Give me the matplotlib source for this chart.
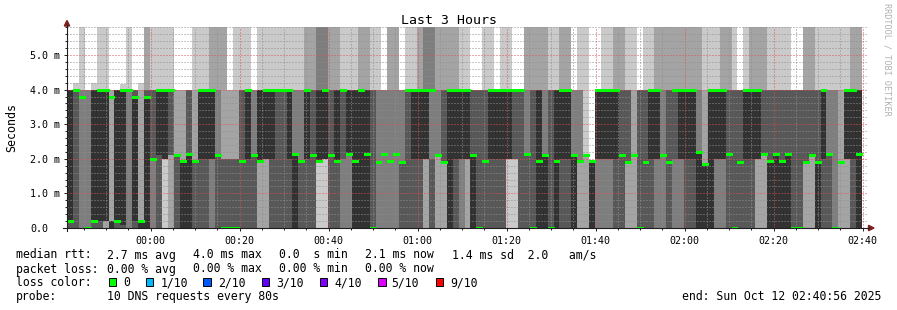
# Smokeping style DNS latency graph, last 3 hours (80 s steps, 10 pings each)
import numpy as np
import matplotlib
matplotlib.use("Agg")
import matplotlib.pyplot as plt
from matplotlib.patches import Rectangle, Polygon
from matplotlib.lines import Line2D

plt.rcParams["font.family"] = ["DejaVu Sans Mono"]

W, H = 897, 310

# time axis in minutes relative to 00:00
start_min = -18.8
step_min = 80 / 60.0
span_min = 180.0

top = 5.82  # highest ping of the window (ms)

# sorted pings (ms) per 80 s step
pings = [
    [0, 0, 0, 0, 0.2, 4, 4, 4, 4, 4],
    [0, 0, 0, 0, 4, 4, 4, 4, 4, 4.2],
    [0, 0, 0, 4, 4, 4, 4, 4, 4, top],
    [0, 0, 0, 0, 0, 0, 0, 4, 4, 4],
    [0, 0, 0, 0, 0.2, 4, 4, 4, 4, 4.2],
    [0, 0, 0, 0, 0.2, 4, 4, 4, 4, top],
    [0, 0, 0.2, 0.2, 0.2, 4, 4, 4, 4, top],
    [0, 0, 0, 0, 0, 0.2, 0.2, 0.2, 4, 4],
    [0, 0, 0, 0, 0.2, 4, 4, 4, 4, 4],
    [0, 0, 0, 0, 0.1, 4, 4, 4, 4, 4.15],
    # 10
    [0, 0, 0, 4, 4, 4, 4, 4, 4, top],
    [0, 0, 0, 0, 0.2, 3.8, 4, 4, 4, 4],
    [0, 0, 0, 0, 0, 0.2, 0.2, 0.2, 4, 4.2],
    [0, 0, 0, 0, 0, 3.8, 4, 4, top, top],
    [0, 0, 0, 2, 2, 2, 4, 4, 4, top],
    [0, 0, 0, 0, 2.1, 4, 4, 4, 4, top],
    [0, 2, 2, 2, 2, 4, 4, 4, 4, top],
    [0, 0, 2.1, 2.1, 4, 4, 4, 4, 4, top],
    [0, 0, 0, 0, 0, 0, 2.1, 2.1, 4, 4],
    [0, 0, 0, 0, 0, 1.95, 1.95, 1.95, 4, 4],
    # 20
    [0, 0, 0, 0, 0, 2.15, 4, 4, 4, 4],
    [0, 0, 0, 0, 0, 0, 1.95, 1.95, 4, top],
    [0, 0, 0, 0, 2, 4, 4, 4, 4, top],
    [0, 0, 0, 0, 2, 4, 4, 4, 4, top],
    [0, 0, 0, 2, 2, 4, 4, 4, top, top],
    [0, 0, 0, 0, 0, 0, 2.1, 4, top, top],
    [0, 0, 0, 0, 0, 0, 2, 2, top, top],
    [0, 0, 0, 0, 0, 0, 2, 2, 4, 4],
    [0, 0, 0, 0, 0, 0, 2, 2, 4, top],
    [0, 0, 0, 0, 1.95, 1.95, 4, 4, 4, top],
    # 30
    [0, 0, 0, 0, 2, 4, 4, 4, 4, top],
    [0, 0, 0, 0, 0, 0, 2.1, 4, 4, 4],
    [0, 0, 1.95, 1.95, 1.95, 4, 4, 4, 4, top],
    [0, 0, 2, 2, 2, 4, 4, 4, 4, top],
    [0, 0, 0, 0, 2, 4, 4, 4, 4, top],
    [0, 0, 0, 0, 2, 2, 4, 4, 4, top],
    [0, 0, 0, 0, 2, 2, 4, 4, 4, top],
    [0, 0, 0, 0, 2, 4, 4, 4, 4, top],
    [0, 0, 0, 0, 0, 2.15, 2.15, 4, 4, top],
    [0, 0, 0, 0, 0, 0, 1.95, 4, 4, top],
    # 40
    [0, 0, 0, 0, 2, 4, 4, 4, top, top],
    [0, 0, 0, 0, 2.1, 2.1, 4, 4, top, top],
    [0, 1.95, 1.95, 1.95, 1.95, 4, 4, top, top, top],
    [0, 2, 2, 2, 2, 4, 4, top, top, top],
    [0, 0, 0, 0, 2.1, 2.1, 4, 4, top, top],
    [0, 0, 0, 0, 1.95, 4, 4, 4, top, top],
    [0, 0, 0, 2, 2, 2, 4, 4, 4, top],
    [0, 0, 0, 2.15, 2.15, 4, 4, 4, 4, top],
    [0, 0, 0, 0, 0, 4, 4, 4, 4, top],
    [0, 0, 0, 0, 0, 4, 4, 4, top, top],
    # 50
    [0, 0, 0, 0, 0, 4, 4, 4, top, top],
    [0, 0, 0, 0, 0, 0, 4, 4, 4, top],
    [0, 0, 0, 1.9, 1.9, 1.9, 1.9, 4, 4, top],
    [0, 0, 0, 2.15, 2.15, 2.15, 2.15, 4, 4, 4],
    [0, 0, 0, 1.95, 1.95, 1.95, 1.95, 4, top, top],
    [0, 0, 0, 2.15, 2.15, 2.15, 2.15, 4, top, top],
    [0, 0, 0, 0, 1.9, 1.9, 1.9, 4, 4, 4],
    [0, 0, 0, 0, 2, 2, 4, 4, 4, top],
    [0, 0, 0, 0, 2, 4, 4, 4, 4, top],
    [0, 0, 0, 0, 2, 4, 4, 4, top, top],
    # 60
    [0, 0, 2, 2, 2, 4, 4, top, top, top],
    [0, 0, 0, 0, 0, 0, 2, top, top, top],
    [0, 0, 2.1, 2.1, 2.1, 2.1, 2.1, 4, top, top],
    [0, 0, 1.9, 1.9, 4, 4, 4, 4, top, top],
    [0, 0, 0, 0, 0, 4, 4, 4, top, top],
    [0, 0, 0, 0, 2, 4, 4, 4, top, top],
    [0, 0, 0, 2, 2, 4, 4, 4, 4, top],
    [0, 0, 2, 2, 2, 4, 4, 4, 4, top],
    [0, 0, 0, 0, 0, 2.1, 4, 4, 4, 4],
    [0, 0, 0, 0, 0, 0, 4, 4, 4, 4],
    # 70
    [0, 0, 0, 0, 1.95, 1.95, 4, 4, 4, top],
    [0, 0, 0, 0, 2, 4, 4, 4, 4, top],
    [0, 0, 0, 0, 2, 4, 4, 4, 4, 4],
    [0, 0, 0, 0, 2, 4, 4, 4, 4, top],
    [0, 2, 2, 2, 2, 4, 4, 4, 4, top],
    [0, 2, 2, 2, 2, 2, 4, 4, 4, 4],
    [0, 0, 0, 0, 2, 2, 4, 4, 4, 4],
    [0, 0, 0, 0, 0, 0, 2.15, 4, top, top],
    [0, 0, 0, 0, 0, 0, 4, 4, top, top],
    [0, 0, 0, 0, 0, 4, 4, 4, top, top],
    # 80
    [0, 0, 0, 0, 0, 2.1, 2.1, 4, top, top],
    [0, 0, 0, 0, 0, 0, 4, 4, 4, top],
    [0, 0, 0, 0, 0, 4, 4, 4, 4, top],
    [0, 0, 0, 0, 2, 4, 4, 4, top, top],
    [0, 0, 0, 0, 2, 4, 4, 4, top, top],
    [0, 0, 0, 0, 0, 2.1, 2.1, 4, 4, 4],
    [0, 0, 1.95, 1.95, 1.95, 1.95, 1.95, 4, 4, top],
    [0, 0, 2.1, 2.1, 2.1, 2.1, 2.1, 2.1, 2.1, top],
    [0, 0, 0, 0, 0, 1.95, 1.95, 1.95, 1.95, 1.95],
    [0, 0, 0, 2, 2, 4, 4, 4, 4, 4],
    # 90
    [0, 0, 0, 2, 2, 4, 4, 4, 4, top],
    [0, 0, 0, 2, 2, 4, 4, 4, 4, top],
    [0, 0, 0, 0, 2, 4, 4, 4, top, top],
    [0, 0, 0, 0, 2.1, 2.1, 4, 4, top, top],
    [0, 0, 1.9, 1.9, 1.9, 1.9, 4, 4, 4, top],
    [0, 0, 2.1, 2.1, 2.1, 2.1, 2.1, 2.1, 4, top],
    [0, 0, 0, 0, 0, 0, 4, 4, 4, 4],
    [0, 0, 0, 0, 1.9, 1.9, 4, 4, 4, top],
    [0, 0, 0, 0, 2, 4, 4, 4, 4, top],
    [0, 0, 0, 2, 2, 4, 4, 4, top, top],
    # 100
    [0, 0, 0, 2.1, 2.1, 2.1, 2.1, 4, top, top],
    [0, 0, 0, 0, 1.9, 1.9, 4, 4, top, top],
    [0, 0, 0, 2, 2, 2, 4, 4, top, top],
    [0, 0, 0, 2, 2, 4, 4, 4, top, top],
    [0, 0, 0, 0, 2, 4, 4, 4, top, top],
    [0, 0, 0, 0, 2, 4, 4, 4, top, top],
    [0, 0, 0, 0, 0, 2.2, 2.2, 4, top, top],
    [0, 0, 0, 0, 0, 1.85, 1.85, 1.85, 4, top],
    [0, 0, 0, 0, 0, 4, 4, 4, 4, top],
    [0, 0, 0, 2, 2, 4, 4, 4, 4, top],
    # 110
    [0, 0, 0, 2, 2, 4, 4, 4, top, top],
    [0, 0, 0, 0, 2.15, 2.15, 4, 4, top, top],
    [0, 0, 0, 0, 0, 0, 4, 4, 4, top],
    [0, 0, 0, 0, 1.9, 1.9, 4, 4, 4, 4],
    [0, 0, 0, 0, 2, 4, 4, 4, 4, top],
    [0, 0, 0, 0, 2, 4, 4, 4, top, top],
    [0, 0, 2, 2, 2, 4, 4, 4, top, top],
    [0, 0, 2.15, 2.15, 4, 4, 4, 4, top, top],
    [0, 0, 0, 0, 0, 1.95, 4, 4, 4, top],
    [0, 0, 0, 0, 0, 2.15, 4, 4, 4, top],
    # 120
    [0, 0, 0, 0, 0, 1.95, 4, 4, 4, top],
    [0, 0, 0, 0, 0, 2.15, 4, 4, 4, top],
    [0, 0, 0, 0, 0, 0, 4, 4, 4, 4],
    [0, 0, 0, 0, 0, 0, 4, 4, 4, 4],
    [0, 0, 1.9, 1.9, 4, 4, 4, 4, top, top],
    [0, 0, 2.1, 2.1, 4, 4, 4, 4, top, top],
    [0, 0, 0, 0, 0, 1.9, 4, 4, 4, top],
    [0, 0, 0, 0, 2, 4, 4, 4, 4, top],
    [0, 0, 0, 0, 0, 0, 2.15, 4, 4, top],
    [0, 0, 0, 0, 0, 0, 0, 4, 4, top],
    # 130
    [0, 0, 1.9, 1.9, 1.9, 1.9, 1.9, 1.9, 4, top],
    [0, 0, 2, 2, 2, 4, 4, 4, 4, top],
    [0, 0, 0, 0, 2, 4, 4, 4, top, top],
    [0, 0, 0, 0, 0, 4, 4, 4, top, top],
]

# median rtt (ms) per step
median = [
    0.2, 4.0, 3.8, 0.0, 0.2, 4.0, 4.0, 3.8, 0.2, 4.0,
    4.0, 3.8, 0.2, 3.8, 2.0, 4.0, 4.0, 4.0, 2.1, 1.95,
    2.15, 1.95, 4.0, 4.0, 4.0, 2.1, 0.0, 0.0, 0.0, 1.95,
    4.0, 2.1, 1.95, 4.0, 4.0, 4.0, 4.0, 4.0, 2.15, 1.95,
    4.0, 2.1, 1.95, 4.0, 2.1, 1.95, 4.0, 2.15, 1.95, 4.0,
    2.15, 0.0, 1.9, 2.15, 1.95, 2.15, 1.9, 4.0, 4.0, 4.0,
    4.0, 4.0, 2.1, 1.9, 4.0, 4.0, 4.0, 4.0, 2.1, 0.0,
    1.95, 4.0, 4.0, 4.0, 4.0, 4.0, 4.0, 2.15, 0.0, 1.95,
    2.1, 0.0, 1.95, 4.0, 4.0, 2.1, 1.95, 2.1, 1.95, 4.0,
    4.0, 4.0, 4.0, 2.1, 1.9, 2.1, 0.0, 1.9, 4.0, 4.0,
    2.1, 1.9, 4.0, 4.0, 4.0, 4.0, 2.2, 1.85, 4.0, 4.0,
    4.0, 2.15, 0.0, 1.9, 4.0, 4.0, 4.0, 2.15, 1.95, 2.15,
    1.95, 2.15, 0.0, 0.0, 1.9, 2.1, 1.9, 4.0, 2.15, 0.0,
    1.9, 4.0, 4.0, 2.15,
]

xtick_pos = [0, 20, 40, 60, 80, 100, 120, 140, 160]
xtick_labels = ["00:00", "00:20", "00:40", "01:00", "01:20",
                "01:40", "02:00", "02:20", "02:40"]
ytick_pos = [0, 1, 2, 3, 4, 5]
ytick_labels = ["0.0", "1.0 m", "2.0 m", "3.0 m", "4.0 m", "5.0 m"]

rtt_stats = ["2.7 ms avg", "4.0 ms max", "0.0  s min", "2.1 ms now",
             "1.4 ms sd  2.0   am/s"]
loss_stats = ["0.00 % avg", "0.00 % max", "0.00 % min", "0.00 % now"]
loss_labels = ["0", "1/10", "2/10", "3/10", "4/10", "5/10", "9/10"]
loss_colors = ["#00ff00", "#00b8ff", "#0059ff", "#5e00ff",
               "#7e00ff", "#dd00ff", "#ff0000"]

smoke_colors = ["#cacaca", "#a4a4a4", "#7e7e7e", "#585858", "#323232"]
axis_col = (0.12, 0.12, 0.12)
arrow_col = (0.50, 0.12, 0.12)


def fx(x):
    return x / W


def fy(y):
    return 1 - y / H


fig = plt.figure(figsize=(W / 100, H / 100), dpi=100)
fig.patch.set_facecolor("white")

px_per_ms = 34.6
plot_l, plot_r, plot_b = 67, 868, 228
plot_t = plot_b - top * px_per_ms
ax = fig.add_axes([fx(plot_l), fy(plot_b), (plot_r - plot_l) / W, (plot_b - plot_t) / H])
ax.set_xlim(start_min, start_min + span_min)
ax.set_ylim(0, top)
for s in ax.spines.values():
    s.set_visible(False)

# smoke: band i spans ping i .. ping 11-i, darker towards the median
data = np.array(pings, dtype=float)
n = len(data)
edges = start_min + step_min * np.arange(n + 1)
for i, col in enumerate(smoke_colors):
    lo = np.append(data[:, i], data[-1, i])
    hi = np.append(data[:, 9 - i], data[-1, 9 - i])
    ax.fill_between(edges, lo, hi, step="post", color=col, lw=0,
                    antialiased=False, zorder=1)

ax.hlines(median, edges[:-1], edges[1:], colors="#00ff00", lw=1.9,
          zorder=4, antialiased=False)

# grid
ax.set_xticks(xtick_pos)
ax.set_xticks(np.arange(-15, 161, 5), minor=True)
ax.set_yticks(ytick_pos)
ax.set_yticks(np.arange(0, top, 0.2), minor=True)
ax.set_axisbelow(False)
ax.grid(which="minor", color=(0.56, 0.56, 0.56, 0.75), linestyle=(0, (1, 2)), lw=0.72)
ax.grid(which="major", color=(0.87, 0.31, 0.31, 0.6), linestyle=(0, (1, 2)), lw=0.72)

ax.set_xticklabels(xtick_labels, fontsize=7.2)
ax.set_yticklabels(ytick_labels, fontsize=7.2)
for lab in ax.get_yticklabels():
    lab.set_horizontalalignment("left")
ax.tick_params(axis="x", which="major", length=2.2, width=0.7, color=axis_col, pad=3.2)
ax.tick_params(axis="x", which="minor", length=1.5, width=0.7, color=axis_col)
ax.tick_params(axis="y", which="major", length=2.2, width=0.7, color=axis_col, pad=24.4)
ax.tick_params(axis="y", which="minor", length=1.5, width=0.7, color=axis_col)

# axis lines with arrows
fig.add_artist(Line2D([fx(63), fx(869)], [fy(228), fy(228)], color=axis_col, lw=0.8))
fig.add_artist(Line2D([fx(67), fx(67)], [fy(231), fy(25)], color=axis_col, lw=0.8))
fig.add_artist(Polygon([(fx(868.5), fy(225.3)), (fx(874), fy(228)), (fx(868.5), fy(230.7))],
                       closed=True, color=arrow_col, transform=fig.transFigure))
fig.add_artist(Polygon([(fx(64.3), fy(26)), (fx(67), fy(20.5)), (fx(69.7), fy(26))],
                       closed=True, color=arrow_col, transform=fig.transFigure))

# titles
fig.text(fx(448.5), fy(23.5), "Last 3 Hours", ha="center", va="baseline", fontsize=9.5)
fig.text(fx(11.5), fy(127), "Seconds", rotation=90, ha="center", va="center", fontsize=8.4)
fig.text(fx(887), fy(3), "RRDTOOL / TOBI OETIKER", rotation=270, ha="center", va="top",
         fontsize=6.1, color="#b0b0b0")

# legend block
fs = 8.3
base = [258.5, 272.5, 286.3, 300.2]
fig.text(fx(16), fy(base[0]), "median rtt:", fontsize=fs, va="baseline")
for x, s in zip([107, 193, 279, 365, 451.5], rtt_stats):
    fig.text(fx(x), fy(base[0]), s, fontsize=fs, va="baseline")

fig.text(fx(16), fy(base[1]), "packet loss:", fontsize=fs, va="baseline")
for x, s in zip([107, 193, 279, 365], loss_stats):
    fig.text(fx(x), fy(base[1]), s, fontsize=fs, va="baseline")

fig.text(fx(16), fy(base[2]), "loss color:", fontsize=fs, va="baseline")
box_x = [108.7, 145.7, 203.3, 261.7, 320, 378.3, 436]
lab_x = [123.3, 160.7, 218.3, 276, 334, 391.7, 450]
for bx, lx, lab, col in zip(box_x, lab_x, loss_labels, loss_colors):
    fig.add_artist(Rectangle((fx(bx), fy(285.8)), 7.4 / W, 7.4 / H, facecolor=col,
                             edgecolor="black", lw=0.7, transform=fig.transFigure))
    fig.text(fx(lx), fy(base[2]), lab, fontsize=fs, va="baseline")

fig.text(fx(16), fy(base[3]), "probe:", fontsize=fs, va="baseline")
fig.text(fx(107), fy(base[3]), "10 DNS requests every 80s", fontsize=fs, va="baseline")
fig.text(fx(881), fy(base[3]), "end: Sun Oct 12 02:40:56 2025", fontsize=fs,
         va="baseline", ha="right")

fig.savefig("out.png", dpi=100, facecolor="white")
